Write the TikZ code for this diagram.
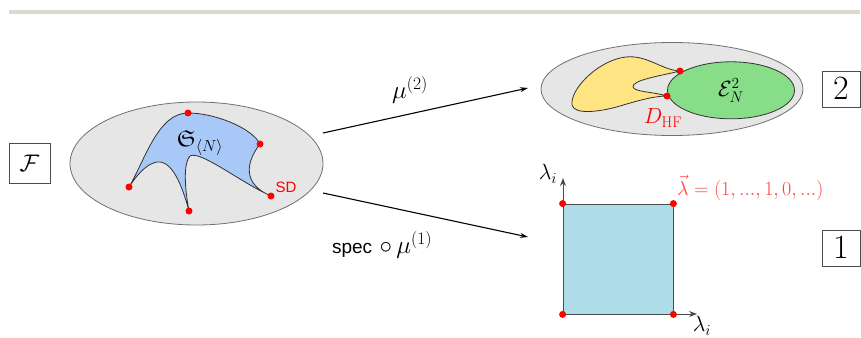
\RequirePackage{fix-cm}
\documentclass[tikz,border=0pt]{standalone}
\usepackage{amsmath,amssymb}
\usepackage{fontspec}
\setsansfont{Liberation Sans}
\DeclareFontFamily{U}{euf}{}
\DeclareFontShape{U}{euf}{m}{n}{<-6>eufm5<6-8>eufm7<8->eufm10}{}
\usetikzlibrary{arrows.meta,shapes.geometric}
\definecolor{barcol}{HTML}{DDD9CC}
\definecolor{setgray}{HTML}{E6E6E6}
\definecolor{edgegray}{HTML}{707070}
\definecolor{shapeblue}{HTML}{A8C8F8}
\definecolor{sqblue}{HTML}{AEDCE8}
\definecolor{yel}{HTML}{FFE484}
\definecolor{grn}{HTML}{88DD88}
\definecolor{dotred}{HTML}{FF0000}
\tikzset{
  setell/.style={draw=edgegray, fill=setgray, line width=0.8pt},
  region/.style={draw=black!80, line width=0.8pt},
  pt/.style={circle, fill=dotred, inner sep=0pt, minimum size=7pt},
  mapar/.style={-{Stealth[length=8pt,width=5pt]}, line width=1.1pt},
  axar/.style={-{Stealth[length=8pt,width=6pt]}, line width=0.8pt, draw=black!70},
  numbox/.style={draw=black!70, line width=0.8pt, inner sep=0pt, minimum width=38pt, minimum height=36pt, font=\fontsize{34}{36}\selectfont},
  lab/.style={font=\fontsize{22}{26}\selectfont},
  maplab/.style={font=\fontsize{25}{28}\selectfont},
  redlab/.style={text=dotred!75, font=\fontsize{20}{24}\selectfont, inner sep=1pt}
}
\begin{document}
\begin{tikzpicture}[x=1pt,y=-1pt]
\useasboundingbox (0,0) rectangle (861,337);
% top bar
\fill[barcol] (9,10) rectangle (860,14);

% F box
\node[numbox, minimum width=41pt, minimum height=40pt, font=\fontsize{24}{26}\selectfont] (F) at (29.5,163) {$\mathcal{F}$};

% left set
\node[setell, ellipse, minimum width=253pt, minimum height=123pt, inner sep=0pt] (left) at (196.5,163.5) {};
\draw[region, fill=shapeblue]
  (129,187) .. controls (145,160) and (158,113) .. (188,113)
  .. controls (215,113) and (252,128) .. (260,144)
  .. controls (246,162) and (242,184) .. (271,196)
  .. controls (240,182) and (200,150) .. (190,156)
  .. controls (182,165) and (186,195) .. (189,211)
  .. controls (182,185) and (172,160) .. (157,162)
  .. controls (145,164) and (135,178) .. (129,187) -- cycle;
\node[pt] (p1) at (129,187) {};
\node[pt] (p2) at (188,113) {};
\node[pt] (p3) at (260,144) {};
\node[pt] (p4) at (271,196) {};
\node[pt] (p5) at (189,211) {};
\node[lab, font=\fontsize{23}{26}\selectfont] (S) at (200,143) {$\mathfrak{S}_{\langle N\rangle}$};
\node[text=dotred, font=\sffamily\fontsize{15}{17}\selectfont] (SD) at (286,187) {SD};

% top right set
\node[setell, ellipse, minimum width=262pt, minimum height=93pt, inner sep=0pt] (right) at (672,89) {};
\draw[region, fill=yel]
  (680,71) .. controls (660,70) and (645,52) .. (620,58)
  .. controls (595,64) and (570,90) .. (572,105)
  .. controls (574,115) and (600,112) .. (620,106)
  .. controls (640,100) and (655,96) .. (667,96)
  .. controls (655,92) and (634,92) .. (633,87)
  .. controls (632,80) and (660,76) .. (680,71) -- cycle;
\node[region, fill=grn, ellipse, minimum width=127pt, minimum height=57pt, inner sep=0pt, font=\fontsize{22}{26}\selectfont] (E) at (731,90.3) {$\mathcal{E}^2_N$};
\node[pt] (q1) at (680,71) {};
\node[pt] (q2) at (667,96) {};
\node[text=dotred, font=\fontsize{22}{26}\selectfont] (DHF) at (663,118) {$D_{\mathrm{HF}}$};
\node[numbox] (two) at (841,89) {$2$};

% square
\draw[axar] (563,314) coordinate (o) -- (563,178) coordinate (ytip);
\draw[axar] (o) -- (697,314) coordinate (xtip);
\node[draw=black!70, line width=0.8pt, fill=sqblue, minimum width=110pt, minimum height=110pt, inner sep=0pt] (sq) at (618,259) {};
\node[pt] (c1) at (sq.north west) {};
\node[pt] (c2) at (sq.north east) {};
\node[pt] (c3) at (sq.south west) {};
\node[pt] (c4) at (sq.south east) {};
\node[lab] (ly) at (548,174) {$\lambda_i$};
\node[lab] (lx) at (702,326) {$\lambda_i$};
\node[redlab, anchor=west] (vec) at (676,188) {$\vec\lambda=(1,...,1,0,...)$};
\node[numbox] (one) at (841,248) {$1$};

% maps
\coordinate (a1s) at (323,133);
\coordinate (a1e) at (528,88);
\coordinate (a2s) at (323,193);
\coordinate (a2e) at (528,237);
\draw[mapar] (a1s) -- (a1e);
\draw[mapar] (a2s) -- (a2e);
\node[maplab] (mu2) at (410,90) {$\mu^{(2)}$};
\node[maplab] (mu1) at (382,245) {{\sffamily\fontsize{19}{22}\selectfont spec} $\circ\,\mu^{(1)}$};
\end{tikzpicture}
\end{document}
